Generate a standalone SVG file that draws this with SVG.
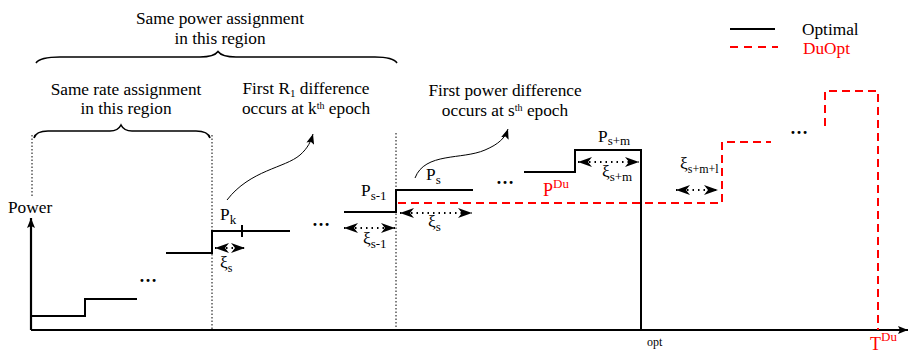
<svg xmlns="http://www.w3.org/2000/svg" width="913" height="354" viewBox="0 0 913 354" font-family="'Liberation Serif', 'Times New Roman', serif">
<style>
text{font-family:'Liberation Serif','Times New Roman',serif;fill:#000}
.t{font-size:17.3px}
.red{fill:#ff0000}
.blk{stroke:#000;stroke-width:2;fill:none}
.ax{stroke:#000;stroke-width:2.2;fill:none}
.dash{stroke:#ff0000;stroke-width:2;fill:none;stroke-dasharray:8,5}
.dot{stroke:#000;stroke-width:1;fill:none;stroke-dasharray:1.5,2}
.arr{stroke:#000;stroke-width:1.8;fill:none;stroke-dasharray:1.5,4;marker-start:url(#as);marker-end:url(#ae)}
.brace{stroke:#000;stroke-width:1.6;fill:none}
.curve{stroke:#000;stroke-width:1;fill:none;marker-end:url(#ca)}
.el{font-size:18px;font-weight:bold}
</style>
<defs>
<marker id="ae" markerWidth="14" markerHeight="10" refX="14" refY="5" orient="auto" markerUnits="userSpaceOnUse"><path d="M0,0 L14,5 L0,10 L4,5 z" fill="#000"/></marker>
<marker id="as" markerWidth="14" markerHeight="10" refX="0" refY="5" orient="auto" markerUnits="userSpaceOnUse"><path d="M14,0 L0,5 L14,10 L10,5 z" fill="#000"/></marker>
<marker id="ca" markerWidth="10" markerHeight="8" refX="10" refY="4" orient="auto" markerUnits="userSpaceOnUse"><path d="M0,0 L10,4 L0,8 L2,4 z" fill="#000"/></marker>
<marker id="axe" markerWidth="10" markerHeight="8" refX="10" refY="4" orient="auto" markerUnits="userSpaceOnUse"><path d="M0,0 L10,4 L0,8 L2,4 z" fill="#000"/></marker>
</defs>

<g id="axes">
<path class="ax" d="M31,330 L31,218" marker-end="url(#axe)"/>
<path class="ax" d="M31,330 L908,330" marker-end="url(#axe)"/>
<text id="power" class="t" x="8" y="213">Power</text>
<text x="647" y="346" style="font-size:12px">opt</text>
<text class="red" x="870" y="350" style="font-size:18px">T<tspan dy="-9" style="font-size:13px">Du</tspan></text>
</g>

<g id="guides">
<path class="dot" d="M32,135 L32,196"/>
<path class="dot" d="M212,135 L212,330"/>
<path class="dot" d="M396,133 L396,330"/>
</g>

<g id="headers">
<text class="t" x="220" y="24" text-anchor="middle">Same power assignment</text>
<text class="t" x="220" y="44" text-anchor="middle">in this region</text>
<path class="brace" d="M36,63 Q40,57 60,57 L200,57 Q214,57 218,51.5 Q222,57 236,57 L375,57 Q393,57 397,63"/>
<text class="t" x="126" y="95" text-anchor="middle">Same rate assignment</text>
<text class="t" x="126" y="114" text-anchor="middle">in this region</text>
<path class="brace" d="M34,138 Q36,131 48,131 L110,131 Q118,131 121,125 Q124,131 132,131 L196,131 Q208,131 210,138"/>
<text class="t" x="306" y="94" text-anchor="middle">First R<tspan dy="3" style="font-size:11px">1</tspan><tspan dy="-3"> difference</tspan></text>
<text class="t" x="306" y="114" text-anchor="middle">occurs at k<tspan dy="-5" style="font-size:10px">th</tspan><tspan dy="5"> epoch</tspan></text>
<path class="curve" d="M227,200 C250,170 285,168 300,155 C308,148 311,141 313,134"/>
<text class="t" x="505" y="96" text-anchor="middle">First power difference</text>
<text class="t" x="505" y="116" text-anchor="middle">occurs at s<tspan dy="-5" style="font-size:10px">th</tspan><tspan dy="5"> epoch</tspan></text>
<path class="curve" d="M415,178 C425,152 462,160 485,150 C499,144 505,138 508,129"/>
</g>

<g id="optimal">
<path class="blk" d="M31,316 L85,316 L85,299 L137,299"/>
<path class="blk" d="M166,253 L212,253 L212,231 L290,231"/>
<path class="blk" d="M242,225 L242,237"/>
<path class="blk" d="M344,212 L396,212 L396,190 L473,190"/>
<path class="blk" d="M524,172 L575,172 L575,150 L641,150 L641,330"/>
</g>

<g id="duopt">
<path class="dash" d="M398,203 L722,203 L722,142 L771,142"/>
<path class="dash" d="M825,126 L825,91 L878,91 L878,330"/>
</g>

<g id="dots">
<text class="el" x="139" y="282">…</text>
<text class="el" x="312" y="226">…</text>
<text class="el" x="496" y="184">…</text>
<text class="el" x="790" y="134">…</text>
</g>

<g id="labels">
<text class="t" x="220" y="220">P<tspan dy="4" style="font-size:13px">k</tspan></text>
<text class="t" x="361" y="196">P<tspan dy="4" style="font-size:13px">s-1</tspan></text>
<text class="t" x="426" y="180">P<tspan dy="4" style="font-size:13px">s</tspan></text>
<text class="t" x="598" y="142">P<tspan dy="3" style="font-size:13px">s+m</tspan></text>
<text class="red" x="543" y="196" style="font-size:18px">P<tspan dy="-8" style="font-size:13px">Du</tspan></text>
<text class="t" x="220" y="268">ξ<tspan dy="4" style="font-size:12px">s</tspan></text>
<text class="t" x="363" y="244">ξ<tspan dy="4" style="font-size:13px">s-1</tspan></text>
<text class="t" x="428" y="227">ξ<tspan dy="4" style="font-size:13px">s</tspan></text>
<text class="t" x="602" y="177">ξ<tspan dy="4" style="font-size:13px">s+m</tspan></text>
<text class="t" x="680" y="169">ξ<tspan dy="4" style="font-size:12px">s+m+l</tspan></text>
</g>

<g id="connectors">
<path class="arr" d="M215,248 L245,248"/>
<path class="arr" d="M344,228 L395,228"/>
<path class="arr" d="M400,213 L472,213"/>
<path class="arr" d="M578,162 L639,162"/>
<path class="arr" d="M676,190 L718,190"/>
</g>

<g id="legend">
<path class="blk" d="M730,29 L775,29"/>
<text class="t" x="802" y="35">Optimal</text>
<path class="dash" d="M730,47 L778,47" style="stroke-dasharray:8,6"/>
<text class="t red" x="803" y="54">DuOpt</text>
</g>
</svg>
